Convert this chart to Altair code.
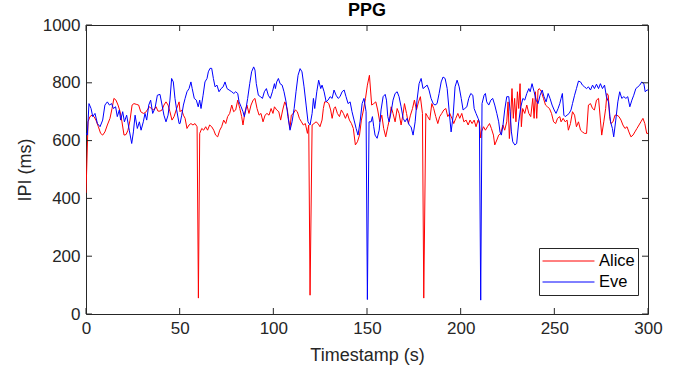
import altair as alt
import pandas as pd

# Alice (red) readings: timestamps (s) and IPI (ms)
alice_t = [0.0, 1.1, 2.1, 3.2, 4.3, 5.3, 6.6, 7.8, 8.9, 10.1, 11.4, 12.8, 13.9, 14.9, 16.0, 17.1, 18.2, 19.2, 20.3, 21.4,
           22.4, 23.5, 24.6, 25.6, 27.1, 28.1, 29.2, 30.6, 31.7, 32.7, 33.8, 34.9, 36.0, 37.4, 38.4, 39.5, 40.6, 41.6, 42.7, 43.8,
           44.8, 45.9, 47.0, 48.4, 49.7, 50.2, 51.1, 52.0, 52.9, 53.9, 55.0, 56.0, 57.1, 58.2, 59.3, 60.0, 60.7, 61.8, 62.8, 63.9,
           64.9, 66.0, 67.1, 68.2, 69.2, 70.3, 71.4, 72.4, 73.5, 74.6, 75.6, 76.7, 77.8, 78.8, 79.9, 81.0, 82.1, 83.1, 83.8, 84.9,
           85.9, 87.0, 88.1, 89.2, 90.2, 91.3, 92.4, 93.4, 94.5, 95.6, 96.6, 97.7, 98.8, 99.8, 100.6, 101.8, 102.9, 103.9, 105.0, 106.1,
           106.8, 107.5, 108.2, 108.9, 109.6, 110.7, 111.8, 112.8, 113.9, 115.0, 116.0, 117.1, 118.2, 118.9, 119.6, 120.7, 121.7, 122.8, 123.9, 124.9,
           126.0, 126.7, 127.4, 128.5, 129.6, 130.6, 131.4, 132.4, 133.1, 134.2, 135.3, 136.3, 137.4, 138.5, 139.5, 140.6, 141.7, 142.7, 143.8, 144.9,
           146.0, 147.0, 148.1, 149.2, 150.2, 151.3, 152.5, 153.6, 154.7, 155.7, 156.8, 157.9, 158.9, 160.0, 161.1, 162.1, 162.9, 163.9, 165.0, 166.1,
           167.1, 168.2, 169.3, 170.0, 171.1, 172.1, 173.2, 174.3, 175.3, 176.4, 177.5, 178.5, 179.6, 180.3, 181.4, 182.4, 183.5, 184.6, 185.6, 186.7,
           187.8, 188.8, 189.9, 191.0, 192.1, 193.1, 194.2, 195.3, 196.3, 197.4, 198.5, 199.5, 200.6, 201.7, 202.9, 204.0, 205.0, 206.1, 207.2, 208.2,
           209.3, 210.0, 210.7, 211.1, 212.2, 213.2, 214.3, 215.4, 216.4, 217.5, 218.2, 219.3, 220.3, 221.4, 222.5, 223.5, 224.6, 225.3, 226.0, 226.7,
           227.4, 228.1, 228.8, 229.5, 230.3, 231.0, 231.7, 232.4, 233.1, 234.2, 235.3, 236.4, 237.4, 238.5, 239.2, 239.9, 240.6, 241.3, 242.0, 243.1,
           244.2, 245.3, 246.3, 247.4, 248.5, 249.6, 250.7, 251.7, 252.9, 253.6, 254.7, 255.8, 256.8, 257.5, 258.6, 259.7, 260.8, 261.8, 262.9, 264.0,
           265.0, 266.1, 267.2, 268.2, 269.3, 270.4, 271.4, 272.5, 273.6, 274.6, 275.3, 276.4, 277.4, 278.1, 278.8, 279.5, 280.2, 281.3, 282.4, 283.4,
           284.5, 285.6, 286.6, 287.7, 288.8, 289.8, 290.9, 292.0, 293.0, 294.1, 295.2, 296.2, 297.3, 298.3, 299.3, 300.0]
alice_v = [419, 665, 683, 688, 683, 671, 648, 625, 619, 630, 654, 677, 711, 746, 740, 723, 700, 665, 619, 621,
           636, 671, 723, 728, 725, 723, 700, 694, 697, 706, 717, 711, 706, 717, 702, 702, 706, 723, 734, 723,
           700, 671, 683, 711, 734, 700, 706, 688, 677, 642, 654, 659, 654, 659, 648, 55, 625, 642, 636, 648,
           636, 654, 648, 636, 619, 613, 636, 648, 671, 659, 683, 694, 723, 700, 706, 740, 711, 683, 654, 700,
           723, 694, 723, 740, 746, 711, 688, 694, 665, 688, 694, 688, 711, 694, 717, 706, 700, 671, 706, 734,
           723, 706, 671, 642, 688, 694, 706, 700, 677, 665, 654, 659, 625, 654, 65, 654, 659, 665, 659, 648,
           671, 711, 734, 734, 728, 706, 677, 711, 717, 694, 683, 706, 694, 677, 694, 671, 659, 642, 585, 596,
           619, 671, 706, 746, 792, 826, 723, 728, 734, 706, 665, 688, 642, 613, 648, 677, 717, 694, 665, 711,
           694, 654, 694, 728, 694, 659, 688, 711, 740, 706, 734, 752, 694, 55, 694, 683, 671, 728, 711, 683,
           659, 683, 694, 706, 711, 683, 694, 677, 659, 677, 694, 677, 694, 665, 671, 654, 671, 659, 671, 648,
           671, 660, 609, 630, 648, 636, 648, 659, 642, 619, 585, 602, 619, 625, 654, 636, 665, 734, 607, 677,
           780, 677, 746, 665, 769, 711, 797, 648, 711, 694, 723, 694, 683, 746, 677, 769, 677, 775, 780, 769,
           746, 723, 717, 711, 694, 665, 659, 677, 683, 665, 677, 665, 671, 636, 659, 700, 688, 648, 665, 636,
           630, 625, 625, 723, 728, 711, 706, 740, 746, 671, 619, 665, 711, 763, 757, 683, 659, 665, 688, 688,
           683, 671, 654, 642, 648, 630, 613, 619, 630, 642, 654, 665, 677, 659, 625, 625]

# Eve (blue) readings
eve_t = [0.0, 0.7, 1.6, 2.7, 3.6, 4.8, 6.1, 7.5, 8.9, 10.1, 11.4, 12.5, 13.7, 14.6, 15.8, 16.7, 17.8, 18.5, 19.6, 20.5,
         21.7, 23.1, 24.4, 25.3, 26.2, 27.4, 28.5, 29.4, 30.6, 31.5, 32.4, 33.5, 34.5, 35.6, 36.8, 38.1, 39.5, 40.6, 41.6, 42.7,
         43.8, 44.8, 45.7, 46.6, 47.5, 48.4, 49.7, 50.2, 51.1, 52.0, 52.9, 53.9, 55.0, 56.0, 56.7, 57.8, 58.9, 59.9, 60.7, 61.4,
         62.5, 63.5, 64.6, 65.3, 66.2, 67.1, 68.0, 68.9, 69.9, 71.0, 72.1, 73.2, 74.2, 75.3, 76.4, 77.8, 78.9, 79.9, 81.0, 81.7,
         82.8, 83.8, 84.5, 85.3, 86.3, 87.4, 88.4, 89.5, 90.2, 90.9, 92.0, 93.1, 94.2, 95.2, 96.3, 97.3, 98.4, 99.5, 100.6, 101.1,
         101.8, 102.7, 103.6, 104.7, 105.7, 106.8, 107.8, 108.9, 110.0, 111.1, 112.1, 113.2, 114.3, 115.3, 116.4, 117.5, 118.5, 119.6, 120.7, 121.4,
         122.1, 123.2, 124.2, 125.3, 126.0, 127.1, 128.2, 129.2, 130.3, 131.4, 132.4, 133.5, 134.6, 135.6, 136.7, 137.8, 138.8, 139.9, 141.0, 142.0,
         143.1, 144.2, 145.2, 146.3, 147.4, 148.4, 149.5, 150.2, 151.1, 152.2, 152.9, 153.6, 154.3, 155.4, 156.5, 157.5, 158.6, 159.7, 160.4, 161.1,
         161.8, 162.9, 163.9, 165.0, 166.1, 167.1, 168.2, 169.3, 170.3, 171.4, 172.5, 173.5, 174.6, 175.7, 176.7, 177.8, 178.9, 179.9, 181.0, 182.1,
         183.1, 184.2, 185.3, 186.3, 187.4, 188.5, 189.6, 190.6, 191.7, 192.8, 193.8, 194.9, 196.0, 197.0, 198.1, 199.2, 200.3, 201.3, 202.2, 203.3,
         204.3, 205.4, 206.5, 207.2, 208.2, 209.3, 210.0, 210.7, 211.4, 212.5, 213.2, 213.9, 215.0, 216.1, 217.1, 218.2, 219.3, 220.3, 221.0, 221.7,
         222.5, 223.5, 224.6, 225.7, 226.4, 227.1, 227.8, 228.9, 229.9, 231.0, 232.1, 233.2, 234.2, 235.3, 236.4, 237.1, 238.1, 239.2, 240.3, 241.3,
         242.4, 243.5, 244.5, 245.6, 246.7, 247.7, 248.8, 249.9, 250.9, 252.0, 252.9, 253.6, 254.3, 255.1, 255.8, 256.8, 257.9, 258.9, 259.7, 260.8,
         261.8, 262.9, 264.0, 265.0, 266.1, 267.2, 268.2, 269.3, 270.4, 271.4, 272.5, 273.6, 274.6, 275.7, 276.8, 277.8, 278.9, 280.0, 281.0, 281.7,
         282.8, 283.9, 284.9, 286.0, 287.1, 288.2, 289.2, 290.3, 291.4, 292.4, 293.5, 294.6, 295.6, 296.7, 297.8, 298.5, 299.5, 300.0]
eve_v = [626, 619, 728, 711, 683, 694, 659, 648, 671, 723, 734, 723, 728, 711, 717, 683, 706, 671, 700, 665,
         688, 636, 590, 630, 688, 642, 665, 636, 665, 694, 671, 723, 740, 694, 711, 757, 760, 723, 688, 665,
         688, 740, 815, 803, 746, 706, 659, 659, 688, 723, 746, 769, 780, 803, 780, 746, 740, 717, 740, 711,
         757, 803, 815, 838, 850, 850, 815, 786, 792, 769, 780, 786, 803, 780, 775, 769, 763, 769, 763, 734,
         717, 700, 683, 706, 746, 797, 838, 855, 844, 797, 757, 752, 746, 769, 780, 757, 746, 769, 797, 780,
         803, 815, 797, 792, 769, 734, 683, 636, 665, 711, 769, 826, 849, 838, 786, 723, 665, 654, 694, 746,
         711, 769, 809, 780, 792, 769, 734, 740, 752, 746, 775, 757, 746, 752, 769, 775, 752, 728, 734, 700,
         671, 642, 619, 665, 728, 746, 700, 50, 665, 665, 683, 648, 619, 608, 636, 706, 752, 760, 740, 683,
         665, 700, 740, 763, 769, 752, 717, 677, 665, 677, 654, 648, 619, 665, 740, 797, 815, 780, 786, 792,
         775, 746, 728, 723, 728, 763, 803, 820, 815, 780, 706, 630, 688, 786, 809, 786, 746, 706, 711, 717,
         746, 763, 757, 711, 694, 677, 665, 48, 728, 757, 763, 734, 723, 740, 746, 723, 694, 665, 630, 619,
         648, 706, 752, 752, 700, 630, 596, 585, 590, 665, 717, 746, 740, 763, 780, 769, 797, 769, 740, 728,
         757, 775, 752, 734, 763, 746, 723, 706, 694, 711, 728, 746, 763, 688, 683, 688, 694, 706, 728, 757,
         780, 806, 803, 792, 786, 780, 786, 775, 792, 780, 795, 780, 797, 780, 792, 752, 734, 665, 642, 613,
         671, 734, 769, 746, 752, 746, 752, 717, 740, 757, 780, 786, 792, 803, 797, 769, 775, 775]

series_names = ["Alice", "Eve"]
series_colors = ["#ff0000", "#0000ff"]
x_ticks = [0, 50, 100, 150, 200, 250, 300]
y_ticks = [0, 200, 400, 600, 800, 1000]

df = pd.concat([
    pd.DataFrame({"t": alice_t, "v": alice_v, "name": "Alice", "k": 0}),
    pd.DataFrame({"t": eve_t, "v": eve_v, "name": "Eve", "k": 1}),
])
xt = pd.DataFrame({"t": x_ticks})
yt = pd.DataFrame({"v": y_ticks})

W, H = 562, 289
FONT = "Liberation Sans"
AX = "#262626"

xscale = alt.Scale(domain=[0, 300], nice=False, zero=False)
yscale = alt.Scale(domain=[0, 1000], nice=False)
axis_style = dict(ticks=False, domain=False, grid=False, format="d", labelFlush=False,
                  labelFont=FONT, labelFontSize=17, labelColor=AX,
                  titleFont=FONT, titleFontSize=18, titleFontWeight="normal", titleColor=AX)
xaxis = alt.Axis(title="Timestamp (s)", values=x_ticks, labelPadding=6, titlePadding=10, **axis_style)
yaxis = alt.Axis(title="IPI (ms)", values=y_ticks, labelPadding=6, titlePadding=8, **axis_style)

lines = alt.Chart(df).mark_line(strokeWidth=1, clip=True).encode(
    x=alt.X("t:Q", scale=xscale, axis=xaxis),
    y=alt.Y("v:Q", scale=yscale, axis=yaxis),
    color=alt.Color("name:N", scale=alt.Scale(domain=series_names, range=series_colors),
                    legend=alt.Legend(title=None, orient="none", legendX=453, legendY=223,
                                      symbolType="stroke", symbolSize=2700, symbolStrokeWidth=1,
                                      clipHeight=20, labelFontSize=16.5, labelFont=FONT, labelColor="#000000",
                                      strokeColor=AX, fillColor="#ffffff", padding=3, rowPadding=1,
                                      labelOffset=4)),
    detail="k:N",
)

tick_style = dict(color=AX, strokeWidth=1)
xb = alt.Chart(xt).mark_rule(**tick_style).encode(x=alt.X("t:Q", scale=xscale, axis=xaxis), y=alt.value(H), y2=alt.value(H - 6))
xtop = alt.Chart(xt).mark_rule(**tick_style).encode(x=alt.X("t:Q", scale=xscale, axis=xaxis), y=alt.value(0), y2=alt.value(6))
yl = alt.Chart(yt).mark_rule(**tick_style).encode(y=alt.Y("v:Q", scale=yscale, axis=yaxis), x=alt.value(0), x2=alt.value(6))
yr = alt.Chart(yt).mark_rule(**tick_style).encode(y=alt.Y("v:Q", scale=yscale, axis=yaxis), x=alt.value(W), x2=alt.value(W - 6))

chart = alt.layer(lines, xb, xtop, yl, yr).properties(
    width=W, height=H,
    title=alt.Title("PPG", fontSize=18, font=FONT, fontWeight="bold", color="#000000", offset=-4),
    autosize=alt.AutoSizeParams(type="none"),
    padding={"left": 86, "top": 25, "right": 37, "bottom": 63},
).configure(background="#ffffff").configure_view(stroke=AX, strokeWidth=1)

chart.save("out.html", embed_options={"renderer": "svg", "actions": False})
